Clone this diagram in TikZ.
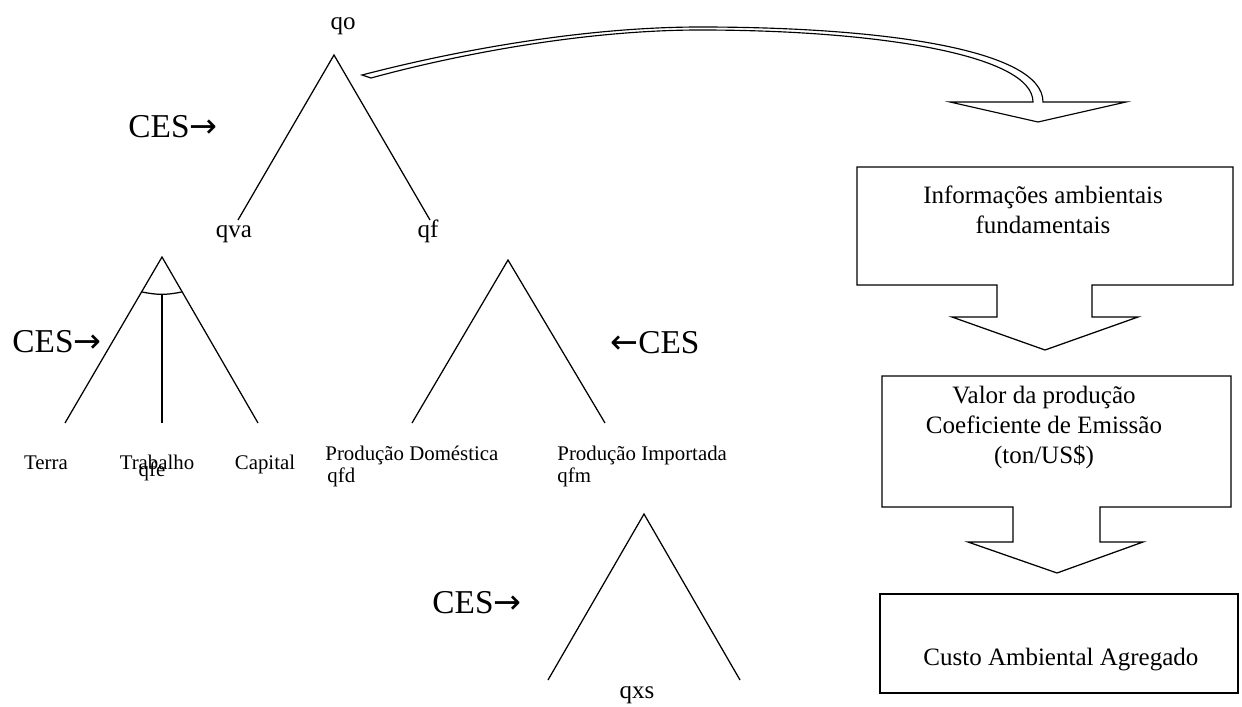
\documentclass[tikz,border=0pt]{standalone}
\usepackage{fontspec}
\setmainfont{Liberation Serif}
\newfontfamily\arrowfont{DejaVu Sans}
\usetikzlibrary{positioning,calc}

\newcommand{\rarr}{{\arrowfont\symbol{"2192}}}
\newcommand{\larr}{{\arrowfont\symbol{"2190}}}

\begin{document}
\begin{tikzpicture}[x=0.48pt, y=-0.48pt,
  leg/.style={line width=0.6pt},
  ces/.style={font=\fontsize{16}{19}\selectfont, inner sep=0pt, anchor=base west},
  qlab/.style={font=\fontsize{12}{14}\selectfont, inner sep=0pt, anchor=base},
  lab/.style={font=\fontsize{10}{12}\selectfont, inner sep=0pt, anchor=base},
  callout/.style={draw, line width=0.6pt, fill=white, line join=miter},
  boxtxt/.style={font=\fontsize{12}{14.4}\selectfont, align=center, inner sep=0pt, anchor=base},
]
\useasboundingbox (0,0) rectangle (1242,707);

% tree points
\coordinate (top) at (334,55);
\coordinate (topL) at (238,220);
\coordinate (topR) at (430,220);
\coordinate (va) at (162,257);
\coordinate (vaL) at (65,423);
\coordinate (vaM) at (162,423);
\coordinate (vaR) at (258,423);
\coordinate (f) at (508,260);
\coordinate (fL) at (412,423);
\coordinate (fR) at (605,423);
\coordinate (m) at (644,514);
\coordinate (mL) at (548,680);
\coordinate (mR) at (740,680);
\coordinate (arcL) at ($(va)!0.21!(vaL)$);
\coordinate (arcR) at ($(va)!0.21!(vaR)$);
\coordinate (arcM) at (162,294);

\draw[leg] (topL) -- (top) -- (topR);
\draw[leg] (vaL) -- (va) -- (vaR);
\draw[leg] (arcL) to[bend right=12] (arcR);
\draw[leg] (arcM) -- (vaM);
\draw[leg] (fL) -- (f) -- (fR);
\draw[leg] (mL) -- (m) -- (mR);

\node[qlab] (qo) at (343,29) {qo};
\node[qlab] (qva) at (234,237) {qva};
\node[qlab] (qf) at (428,237) {qf};
\node[qlab] (qxs) at (637,698) {qxs};

\node[ces] (ces1) at (128,137) {CES\rarr};
\node[ces] (ces2) at (12,352) {CES\rarr};
\node[ces] (ces3) at (610,353) {\larr CES};
\node[ces] (ces4) at (432,613) {CES\rarr};

\node[lab] (terra) at (46,469) {Terra};
\node[lab] (trab) at (157,469) {Trabalho};
\node[lab] (qfe) at (152,476) {qfe};
\node[lab] (cap) at (265,469) {Capital};
\node[lab, anchor=base west] (pdom) at (325,460) {Produção Doméstica};
\node[lab, anchor=base west] (qfd) at (327,482) {qfd};
\node[lab, anchor=base west] (pimp) at (557,460) {Produção Importada};
\node[lab, anchor=base west] (qfm) at (557,482) {qfm};

% curved block arrow
\draw[callout, line width=0.55pt] (362,75) .. controls (450,52) and (580,27) .. (700,27)
  .. controls (885,27) and (1043,50) .. (1043,102) -- (1126,102) -- (1038,122) -- (950,102)
  -- (1033,102) .. controls (1033,55) and (878,30) .. (700,30)
  .. controls (583,30) and (455,55) .. (371,78) -- cycle;

% callout boxes
\draw[callout] (857,167) -- (1233,167) -- (1233,285) -- (1092,285) -- (1092,317) -- (1138,317)
  -- (1045,350) -- (952,317) -- (997,317) -- (997,285) -- (857,285) -- cycle;
\draw[callout] (882,376) -- (1231,376) -- (1231,507) -- (1100,507) -- (1100,542) -- (1143,542)
  -- (1057,573) -- (968,542) -- (1013,542) -- (1013,507) -- (882,507) -- cycle;
\draw[callout] (880,594) rectangle (1238,693);

\node[boxtxt] (info) at (1043,233) {Informações ambientais\\fundamentais};
\node[boxtxt] (valor) at (1044,463) {Valor da produção\\Coeficiente de Emissão\\(ton/US\$)};
\node[boxtxt, anchor=base west] (custo) at (923,665) {Custo Ambiental Agregado};
\end{tikzpicture}
\end{document}
